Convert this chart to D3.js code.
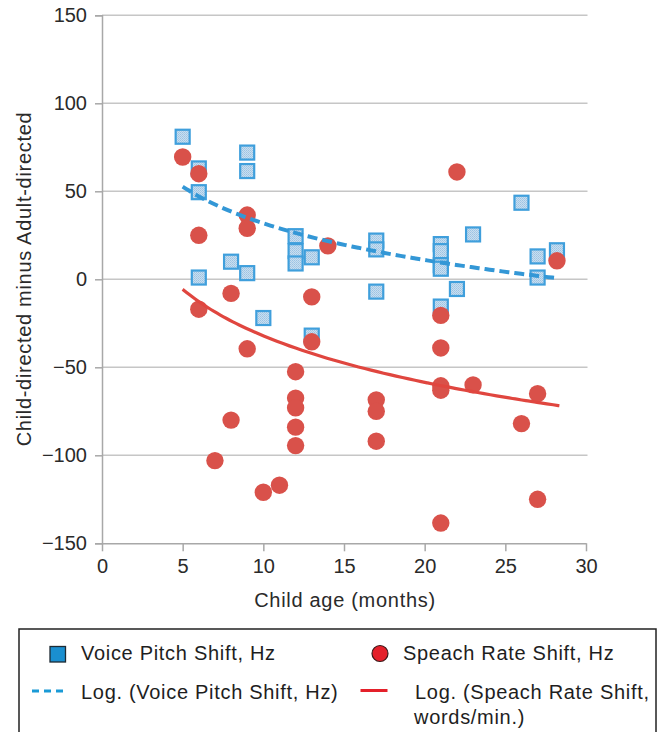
<!DOCTYPE html>
<html>
<head>
<meta charset="utf-8">
<script src="https://cdn.jsdelivr.net/npm/d3@7"></script>
<style>
  html, body { margin: 0; padding: 0; background: #fff; }
  svg { display: block; font-family: "Liberation Sans", Arial, sans-serif; }
</style>
</head>
<body>
<svg id="chart" width="659" height="732"></svg>
<script>
// ---- Data ----
const pitchAge   = [5, 6, 6, 6, 8, 9, 9, 9, 10, 12, 12, 12, 13, 13, 17, 17, 17, 21, 21, 21, 21, 21, 22, 23, 26, 27, 27, 28.2];
const pitchShift = [81, 63, 49.5, 1, 10, 72, 61.5, 3.5, -22, 24.5, 16, 9, 12.5, -32, 22, 17, -7, 20, 16, 8, 6, -15.5, -5.5, 25.5, 43.5, 13, 1, 16.5];

const rateAge    = [5, 6, 6, 6, 7, 8, 8, 9, 9, 9, 10, 11, 12, 12, 12, 12, 12, 13, 13, 14, 17, 17, 17, 21, 21, 21, 21, 21, 22, 23, 26, 27, 27, 28.2];
const rateShift  = [69.5, 60, 25, -17, -103, -8, -80, 36.5, 29, -39.5, -121, -117, -52.5, -67.5, -73, -84, -94.5, -10, -35.5, 19, -68.5, -75, -92, -20.5, -39, -60.5, -63, -138.5, 61, -60, -82, -65, -125, 10.5];

// Logarithmic trendlines as drawn: y = a + b * ln(x), over [xStart, xEnd]
const pitchTrend = [101.0, -30.05, 5, 28.3];
const rateTrend  = [55.6, -38.1, 5, 28.35];

const xTicks = [0, 5, 10, 15, 20, 25, 30];
const yTicks = [-150, -100, -50, 0, 50, 100, 150];

const legendLabels = ["Voice Pitch Shift, Hz", "Speach Rate Shift, Hz", "Log. (Voice Pitch Shift, Hz)", ["Log. (Speach Rate Shift,", "words/min."+")"]];

// ---- Chart ----
const svg = d3.select("#chart");
const x = d3.scaleLinear().domain([0, 30]).range([102, 586]);
const y = d3.scaleLinear().domain([-150, 150]).range([543.3, 15.3]);
const LS = 0.7;

const defs = svg.append("defs");
const pat = defs.append("pattern").attr("id", "dots").attr("width", 2).attr("height", 2)
  .attr("patternUnits", "userSpaceOnUse");
pat.append("rect").attr("width", 2).attr("height", 2).attr("fill", "#c9def0");
pat.append("rect").attr("width", 1).attr("height", 1).attr("fill", "#9cc3e3");
pat.append("rect").attr("x", 1).attr("y", 1).attr("width", 1).attr("height", 1).attr("fill", "#a8cbe6");

// gridlines
svg.append("g").selectAll("line").data(yTicks.filter(d => d !== -150)).join("line")
  .attr("x1", x(0)).attr("x2", 587.5)
  .attr("y1", d => y(d)).attr("y2", d => y(d))
  .attr("stroke", "#c6c6c6").attr("stroke-width", 1.5);

// y axis
const yAxis = svg.append("g").attr("transform", `translate(${x(0)},0)`)
  .call(d3.axisLeft(y).tickValues(yTicks).tickSize(7).tickPadding(8));
yAxis.select(".domain").attr("stroke", "#a8a8a8").attr("stroke-width", 1.5);
yAxis.selectAll(".tick line").attr("stroke", "#a8a8a8").attr("stroke-width", 1.5);
yAxis.selectAll(".tick text").attr("font-size", 20).attr("fill", "#2a2a2a")
  .attr("font-family", "Liberation Sans, Arial, sans-serif");

// x axis
const xAxis = svg.append("g").attr("transform", `translate(0,${y(-150)})`)
  .call(d3.axisBottom(x).tickValues(xTicks).tickSize(8).tickPadding(8).tickSizeOuter(0));
xAxis.select(".domain").attr("stroke", "#a8a8a8").attr("stroke-width", 1.5);
xAxis.selectAll(".tick line").attr("stroke", "#a8a8a8").attr("stroke-width", 1.5);
xAxis.selectAll(".tick text").attr("font-size", 20).attr("fill", "#2a2a2a")
  .attr("font-family", "Liberation Sans, Arial, sans-serif");

// axis titles
svg.append("text").attr("x", 345).attr("y", 607).attr("text-anchor", "middle")
  .attr("font-size", 20).attr("letter-spacing", LS).attr("fill", "#2a2a2a").text("Child age (months)");
svg.append("text").attr("transform", "translate(31,279) rotate(-90)").attr("text-anchor", "middle")
  .attr("font-size", 20).attr("letter-spacing", LS).attr("fill", "#2a2a2a").text("Child-directed minus Adult-directed");

// squares (voice pitch)
const sq = 14;
svg.append("g").selectAll("rect").data(pitchAge.map((a, i) => [a, pitchShift[i]])).join("rect")
  .attr("x", d => x(d[0]) - sq / 2).attr("y", d => y(d[1]) - sq / 2)
  .attr("width", sq).attr("height", sq)
  .attr("fill", "url(#dots)").attr("stroke", "#3f9fdc").attr("stroke-width", 2.2);

// circles (speech rate)
svg.append("g").selectAll("circle").data(rateAge.map((a, i) => [a, rateShift[i]])).join("circle")
  .attr("cx", d => x(d[0])).attr("cy", d => y(d[1])).attr("r", 8.7)
  .attr("fill", "#d9514a");

// trendlines
function trendPts(t) {
  const n = 60, pts = [];
  for (let i = 0; i <= n; i++) {
    const xv = t[2] + (t[3] - t[2]) * i / n;
    pts.push([xv, t[0] + t[1] * Math.log(xv)]);
  }
  return pts;
}
const line = d3.line().x(d => x(d[0])).y(d => y(d[1])).curve(d3.curveBasis);
svg.append("path").attr("d", line(trendPts(pitchTrend))).attr("fill", "none")
  .attr("stroke", "#3397d6").attr("stroke-width", 4).attr("stroke-dasharray", "10,5");
svg.append("path").attr("d", line(trendPts(rateTrend))).attr("fill", "none")
  .attr("stroke", "#e0463f").attr("stroke-width", 3.2);

// legend
const lg = svg.append("g");
lg.append("rect").attr("x", 19).attr("y", 629).attr("width", 637).attr("height", 120)
  .attr("fill", "none").attr("stroke", "#222").attr("stroke-width", 1.5);
lg.append("rect").attr("x", 50).attr("y", 646.5).attr("width", 15.5).attr("height", 15.5)
  .attr("fill", "#1a8fd0").attr("stroke", "#1d2a33").attr("stroke-width", 1.3);
lg.append("circle").attr("cx", 380).attr("cy", 653.5).attr("r", 8)
  .attr("fill", "#e4202a").attr("stroke", "#3a1a1a").attr("stroke-width", 1.2);
lg.append("line").attr("x1", 32).attr("x2", 66).attr("y1", 691).attr("y2", 691)
  .attr("stroke", "#1a9ad6").attr("stroke-width", 3).attr("stroke-dasharray", "7,5");
lg.append("line").attr("x1", 360.5).attr("x2", 387.5).attr("y1", 690.5).attr("y2", 690.5)
  .attr("stroke", "#e4202a").attr("stroke-width", 3);
const lt = (tx, ty, s) => lg.append("text").attr("x", tx).attr("y", ty)
  .attr("font-size", 20).attr("letter-spacing", LS).attr("fill", "#1e1e1e").text(s);
lt(81, 660, legendLabels[0]);
lt(403, 660, legendLabels[1]);
lt(81, 699, legendLabels[2]);
lt(415, 699, legendLabels[3][0]);
lt(414, 724, legendLabels[3][1]);
</script>
</body>
</html>
